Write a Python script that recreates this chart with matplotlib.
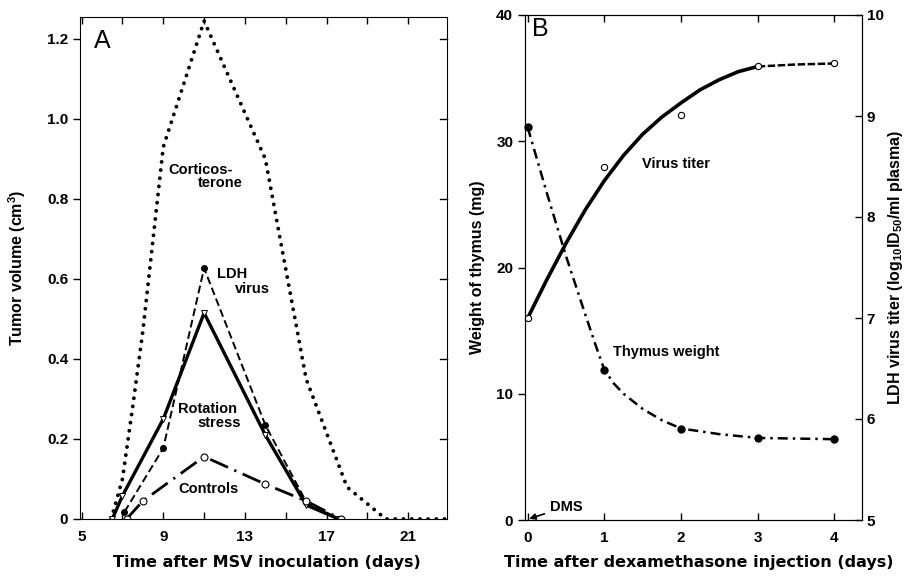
import numpy as np
import matplotlib
matplotlib.use("Agg")
import matplotlib.pyplot as plt

plt.rcParams['font.family'] = ['Liberation Sans', 'DejaVu Sans']
plt.rcParams['font.weight'] = 'bold'
plt.rcParams['mathtext.fontset'] = 'custom'
plt.rcParams['mathtext.rm'] = 'Liberation Sans:bold'
plt.rcParams['mathtext.default'] = 'rm'

# ─── PANEL A DATA (tumor volume, cm3) ────────────────────────────────────────
cort_days = [6.45, 7.0, 7.5, 8.0, 8.5, 9.0, 11.0, 14.0, 16.0, 18.0, 19.9, 22.8]
cort_vol = [0.0, 0.10, 0.28, 0.47, 0.70, 0.93, 1.245, 0.90, 0.35, 0.08, 0.0, 0.0]

ldh_days = [7.1, 9.0, 11.0, 14.0, 16.0, 17.6]
ldh_vol = [0.018, 0.177, 0.627, 0.235, 0.043, 0.0]

rot_days = [6.5, 7.0, 9.0, 11.0, 14.0, 16.0, 17.6]
rot_vol = [0.0, 0.058, 0.25, 0.515, 0.21, 0.035, 0.0]

ctrl_days = [7.2, 8.0, 11.0, 14.0, 16.0, 17.7]
ctrl_vol = [0.0, 0.045, 0.156, 0.087, 0.045, 0.0]

a_xticks = [5, 9, 13, 17, 21]
a_xminor = [7, 11, 15, 19]
a_yticks = [0, 0.2, 0.4, 0.6, 0.8, 1.0, 1.2]
a_ylabels = ["0", "0.2", "0.4", "0.6", "0.8", "1.0", "1.2"]

# ─── PANEL B DATA ────────────────────────────────────────────────────────────
titer_curve_days = [0, 0.25, 0.5, 0.75, 1.0, 1.25, 1.5, 1.75, 2.0, 2.25, 2.5, 2.75, 3.0]
titer_curve = [7.0, 7.38, 7.74, 8.07, 8.36, 8.61, 8.82, 8.99, 9.13, 9.26, 9.36, 9.44, 9.49]
titer_tail_days = [3.0, 3.5, 4.0]
titer_tail = [9.49, 9.51, 9.52]
titer_pt_days = [0, 1, 2, 3, 4]
titer_pts = [7.0, 8.50, 9.01, 9.50, 9.52]

thymus_curve_days = [0, 0.25, 0.5, 0.75, 0.9, 1.0, 1.125, 1.25, 1.5, 1.75, 2.0,
                     2.5, 3.0, 3.5, 4.0]
thymus_curve = [31.1, 25.9, 20.9, 16.3, 13.6, 11.9, 10.8, 10.0, 8.8, 7.9, 7.25,
                6.8, 6.5, 6.45, 6.4]
thymus_pt_days = [0, 1, 2, 3, 4]
thymus_pts = [31.1, 11.9, 7.2, 6.5, 6.4]

b_xticks = [0, 1, 2, 3, 4]
b_yticks = [0, 10, 20, 30, 40]
b_y2ticks = [5, 6, 7, 8, 9, 10]

fig = plt.figure(figsize=(9.1, 5.77), dpi=100)
axA = fig.add_axes([80 / 910, 58 / 577, 367 / 910, 502 / 577])
axB = fig.add_axes([525 / 910, 57 / 577, 337 / 910, 505 / 577])
axB2 = axB.twinx()

tick_kw = dict(labelsize=11, width=1, length=5)

# ─── PANEL A ─────────────────────────────────────────────────────────────────
axA.plot(cort_days, cort_vol, color='black', lw=2.8,
         linestyle=(0, (0.01, 2.1)), dash_capstyle='round')
axA.plot(ldh_days, ldh_vol, color='black', lw=1.4, dashes=(4, 2),
         marker='o', ms=4, mfc='black', mec='black')
axA.plot(rot_days, rot_vol, color='black', lw=2.4, marker='v', ms=4,
         mfc='white', mec='black', mew=0.7)
axA.plot(ctrl_days, ctrl_vol, color='black', lw=2.0, dashes=(7, 2.5, 0.8, 2.5),
         marker='o', ms=5, mfc='white', mec='black', mew=0.8)

axA.set_xlim(4.92, 22.9)
axA.set_ylim(0, 1.255)
axA.set_xticks(a_xticks)
axA.set_xticks(a_xminor, minor=True)
axA.set_yticks(a_yticks)
axA.set_yticklabels(a_ylabels)
axA.tick_params(axis='x', which='both', direction='in', top=True, **tick_kw)
axA.tick_params(axis='x', which='major', pad=8)
axA.tick_params(axis='y', direction='out', right=False, **tick_kw)
for yv in a_yticks[1:]:
    axA.plot([22.55, 22.9], [yv, yv], color='black', lw=1, clip_on=False)

axA.set_xlabel("Time after MSV inoculation (days)", fontsize=11.5,
               family=['DejaVu Sans'], fontweight='bold')
axA.xaxis.set_label_coords(0.51, -0.072)
axA.set_ylabel("Tumor volume (cm$^{3}$)", fontsize=11.5, fontweight='bold')
axA.yaxis.set_label_coords(-0.142, 0.5)

axA.text(5.6, 1.195, "A", fontsize=18, fontweight='normal', va='center')
axA.text(9.23, 0.8725, "Corticos-", fontsize=10.5, va='center')
axA.text(10.70, 0.84, "terone", fontsize=10.5, va='center')
axA.text(11.63, 0.6125, "LDH", fontsize=10.5, va='center')
axA.text(12.52, 0.575, "virus", fontsize=10.5, va='center')
axA.text(9.72, 0.275, "Rotation", fontsize=10.5, va='center')
axA.text(10.65, 0.24, "stress", fontsize=10.5, va='center')
axA.text(9.72, 0.075, "Controls", fontsize=10.5, va='center')

# ─── PANEL B ─────────────────────────────────────────────────────────────────
axB.plot(thymus_curve_days, thymus_curve, color='black', lw=1.8,
         dashes=(4, 2, 1, 2))
axB.plot(thymus_pt_days, thymus_pts, 'o', color='black', ms=5, clip_on=False)

axB2.plot(titer_curve_days, titer_curve, color='black', lw=2.6)
axB2.plot(titer_tail_days, titer_tail, color='black', lw=1.8, dashes=(3, 1))
axB2.plot(titer_pt_days, titer_pts, 'o', ms=4.5, mfc='white', mec='black',
          mew=0.8, clip_on=False, zorder=5)

axB.set_xlim(-0.035, 4.36)
axB.set_ylim(0, 40)
axB2.set_ylim(5, 10)
axB.set_xticks(b_xticks)
axB.set_yticks(b_yticks)
axB2.set_yticks(b_y2ticks)
axB.tick_params(axis='x', direction='in', top=True, pad=8, **tick_kw)
axB.tick_params(axis='y', direction='out', **tick_kw)
axB2.tick_params(axis='y', direction='in', **tick_kw)

axB.set_xlabel("Time after dexamethasone injection (days)", fontsize=11.5,
               family=['DejaVu Sans'], fontweight='bold')
axB.xaxis.set_label_coords(0.515, -0.07)
axB.set_ylabel("Weight of thymus (mg)", fontsize=11.5, fontweight='bold')
axB.yaxis.set_label_coords(-0.118, 0.5)
axB2.set_ylabel("LDH virus titer (log$_{10}$ID$_{50}$/ml plasma)", fontsize=11.5,
                fontweight='bold')
axB2.yaxis.set_label_coords(1.07, 0.5)

axB.text(0.05, 38.9, "B", fontsize=18, fontweight='normal', va='center')
axB.text(1.49, 28.2, "Virus titer", fontsize=10.5, va='center')
axB.text(1.11, 13.3, "Thymus weight", fontsize=10.5, va='center')
axB.annotate("DMS", xy=(0.02, 0.1), xytext=(0.29, 1.05), fontsize=10.5,
             va='center', ha='left',
             arrowprops=dict(arrowstyle='-|>', color='black', lw=1.2,
                             shrinkA=2, shrinkB=0, mutation_scale=9))

fig.savefig("out.png", dpi=100)
